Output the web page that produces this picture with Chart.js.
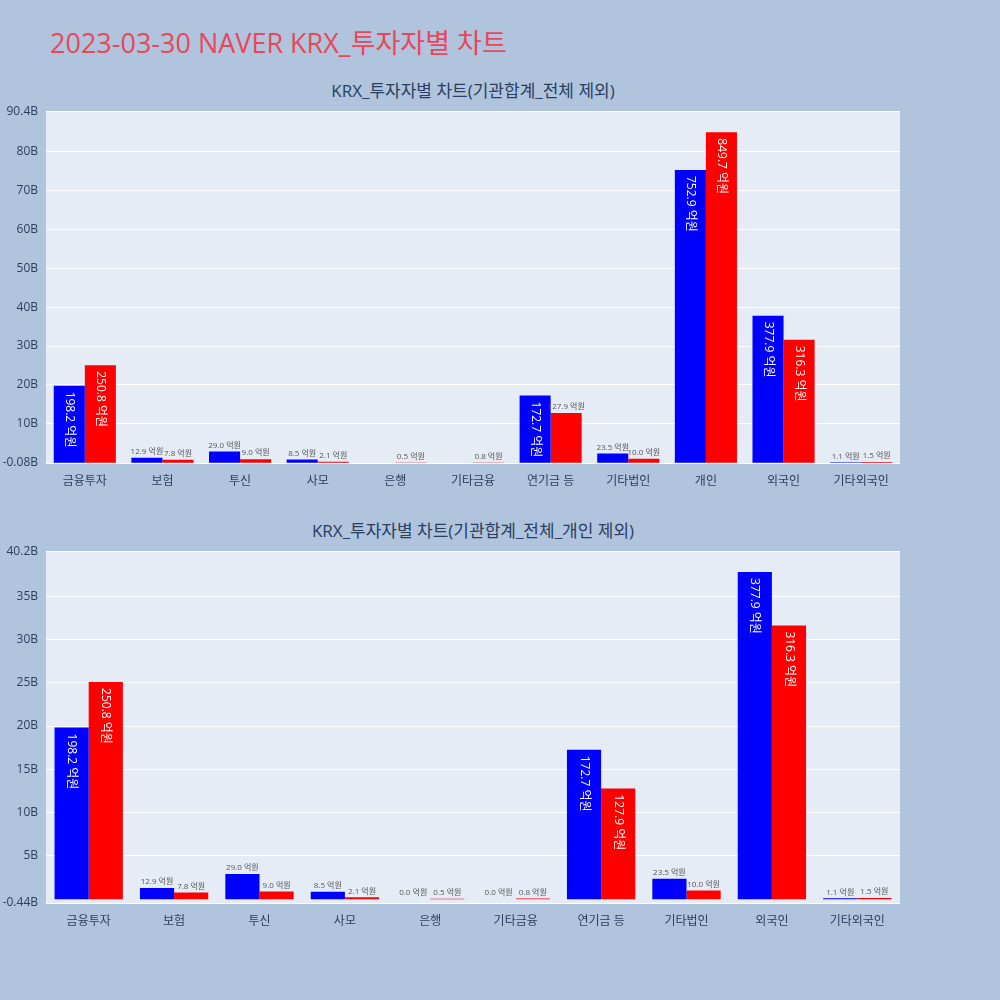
<!DOCTYPE html>
<html><head><meta charset="utf-8">
<script src="https://cdn.jsdelivr.net/npm/chart.js@4"></script>
<style>
body{margin:0;width:1000px;height:1000px;background:#B0C4DE;position:relative;font-family:"Open Sans","Noto Sans CJK KR",sans-serif;overflow:hidden}
.t{position:absolute;color:#2a3f5f;font-size:17px;white-space:nowrap;transform:translateX(-50%)}
.c{position:absolute;left:0;width:1000px}
</style></head><body>
<div style="position:absolute;left:50px;top:22px;font-size:27px;color:#E8475A">2023-03-30 NAVER KRX_투자자별 차트</div>
<div class="t" style="left:473px;top:77px">KRX_투자자별 차트(기관합계_전체 제외)</div>
<div class="t" style="left:473px;top:517px">KRX_투자자별 차트(기관합계_전체_개인 제외)</div>
<div class="c" style="top:96px;height:395px"><canvas id="c1"></canvas></div>
<div class="c" style="top:536px;height:395px"><canvas id="c2"></canvas></div>
<script>
const categories=["금융투자","보험","투신","사모","은행","기타금융","연기금 등","기타법인","개인","외국인","기타외국인"];
const blueVals=[198.2,12.9,29.0,8.5,0.0,0.0,172.7,23.5,752.9,377.9,1.1];
const redVals=[250.8,7.8,9.0,2.1,0.5,0.8,127.9,10.0,849.7,316.3,1.5];
const tickFont={family:"'Open Sans','Noto Sans CJK KR',sans-serif",size:12};
const lbl={id:'lbl',afterDatasetsDraw(ch){const c=ch.ctx;ch.data.datasets.forEach((ds,di)=>{ch.getDatasetMeta(di).data.forEach((b,i)=>{const v=ds.raw[i];if(ch.options.skipZero&&v===0&&di===0)return;const t=v.toFixed(1)+' 억원';const h=b.base-b.y;c.save();c.font='12px "Open Sans","Noto Sans CJK KR"';
if(h>60){c.translate(b.x,b.y+6);c.rotate(Math.PI/2);c.fillStyle='#fff';c.textAlign='left';c.textBaseline='middle';c.fillText(t,0,0);}
else{c.font='8px "Open Sans","Noto Sans CJK KR"';c.fillStyle='#555';c.textAlign='center';c.textBaseline='bottom';c.fillText(t,b.x,b.y-2);}
c.restore();});});}};
const bg={id:'bg',beforeDraw(ch){const a=ch.chartArea;ch.ctx.fillStyle='#E5ECF6';ch.ctx.fillRect(a.left,a.top,a.right-a.left,a.bottom-a.top);}};
function make(id,cats,b,r,min,max,step,skip){
 return new Chart(document.getElementById(id),{type:'bar',
 data:{labels:cats,datasets:[{data:b.map(v=>v/10),raw:b,backgroundColor:'#0000FF'},{data:r.map(v=>v/10),raw:r,backgroundColor:'#FF0000'}]},
 options:{skipZero:skip,responsive:true,maintainAspectRatio:false,animation:false,
  layout:{padding:{left:0,right:100,top:0,bottom:0}},
  plugins:{legend:{display:false},tooltip:{enabled:false}},
  datasets:{bar:{categoryPercentage:0.8,barPercentage:1}},
  scales:{x:{grid:{display:false},border:{display:false},ticks:{color:'#2a3f5f',font:tickFont,maxRotation:0,autoSkip:false},afterFit(s){s.height=28}},
   y:{min:min,max:max,grid:{color:'#fff',drawTicks:false},border:{display:false},afterFit(s){s.width=46},
    ticks:{stepSize:step,color:'#2a3f5f',font:tickFont,padding:8,callback:v=>v===0?'0':v+'B'}}}},
 plugins:[bg,lbl]});
}
make('c1',categories,blueVals,redVals,-0.08,90.4,10,true);
const c2=categories.filter(c=>c!=="개인");
make('c2',c2,blueVals.filter((_,i)=>i!==8),redVals.filter((_,i)=>i!==8),-0.44,40.2,5,false);
</script></body></html>
